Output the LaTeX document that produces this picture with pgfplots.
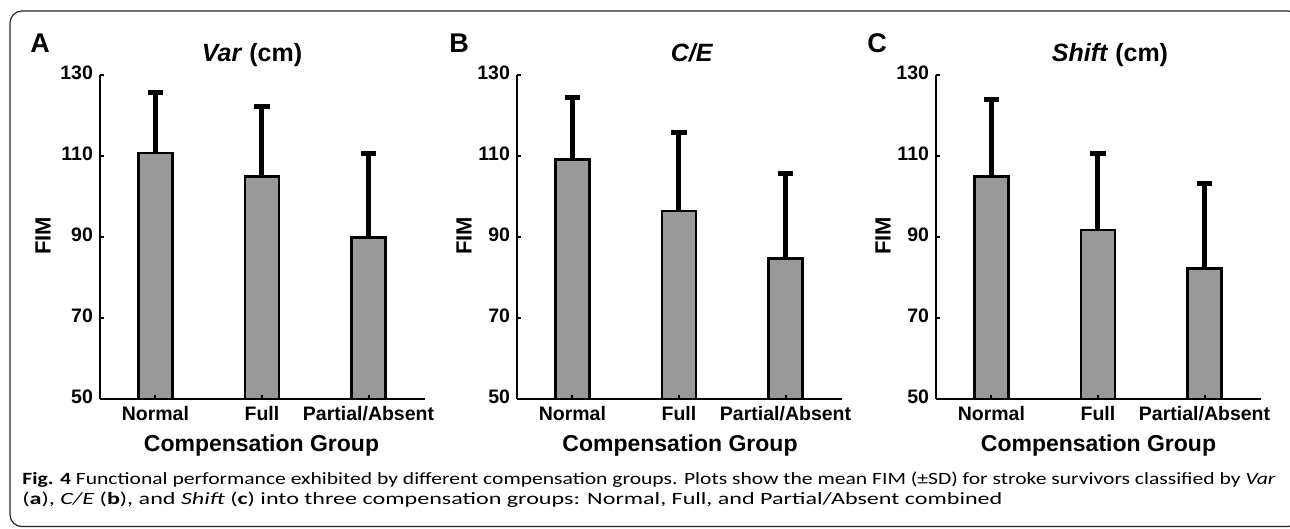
\documentclass[border=0pt]{standalone}
\usepackage{fontspec}
\setmainfont{Liberation Sans}
\newfontfamily\capfont{Carlito}
\usepackage{graphicx}
\usepackage{pgfplots}
\pgfplotsset{compat=1.18}
\definecolor{barfill}{HTML}{999999}
\pgfplotsset{
  fim/.style={
    scale only axis, width=162.5pt, height=162pt, anchor=south west,
    ybar, bar width=17pt,
    xmin=-0.52, xmax=2.53, ymin=50, ymax=130,
    ytick={50,70,90,110,130},
    xtick={0,1,2}, xticklabels={Normal,Full,Partial/Absent},
    axis lines*=left, axis line style={line width=1.1pt, black},
    axis on top,
    tick align=inside, major tick length=2.2pt,
    tick style={line width=1pt, black},
    tick label style={font=\fontsize{9.75}{11}\selectfont\bfseries},
    /pgf/number format/assume math mode=true,
    yticklabel style={yshift=1pt},
  },
  fimbars/.style={fill=barfill, draw=black, line width=1.3pt,
    error bars/.cd, y dir=plus, y explicit, error mark=|,
    error bar style={line width=2.5pt, black},
    error mark options={line width=2.5pt, mark size=3.9pt, black}},
}
\tikzset{
  panel/.style={anchor=base west, inner sep=0pt, font=\fontsize{13.5}{15}\selectfont\bfseries},
  ptitle/.style={anchor=base, inner sep=0pt, font=\fontsize{12.5}{14}\selectfont\bfseries},
  ylab/.style={rotate=90, inner sep=0pt, font=\fontsize{11}{13}\selectfont\bfseries},
  xlab/.style={anchor=base, inner sep=0pt, font=\fontsize{11.5}{13}\selectfont\bfseries},
}

\begin{document}
\begin{tikzpicture}
\useasboundingbox (0,0) rectangle (645pt,264.5pt);
\draw[line width=0.6pt, black!85, rounded corners=6pt] (5pt,1.2pt) rectangle (650pt,259pt);

% A: Var
\begin{axis}[fim, at={(50pt,65pt)}]
\addplot[fimbars] coordinates {(0,110.7) +- (0,15.0) (1,104.9) +- (0,17.3) (2,89.9) +- (0,20.8)};
\end{axis}
% B: C/E
\begin{axis}[fim, at={(258.5pt,65pt)}]
\addplot[fimbars] coordinates {(0,109.2) +- (0,15.3) (1,96.4) +- (0,19.5) (2,84.7) +- (0,20.9)};
\end{axis}
% C: Shift
\begin{axis}[fim, at={(468pt,65pt)}]
\addplot[fimbars] coordinates {(0,105.0) +- (0,18.9) (1,91.7) +- (0,19.0) (2,82.2) +- (0,21.1)};
\end{axis}

\node[panel] at (15pt,238pt) {A};
\node[panel] at (224.5pt,238pt) {B};
\node[panel] at (433.5pt,238pt) {C};
\node[ptitle] at (126pt,233.5pt) {\textit{Var} (cm)};
\node[ptitle] at (346pt,233.5pt) {\textit{C/E}};
\node[ptitle] at (555pt,233.5pt) {\textit{Shift} (cm)};
\node[ylab] at (21.5pt,146.5pt) {FIM};
\node[ylab] at (232pt,146.5pt) {FIM};
\node[ylab] at (441.5pt,146.5pt) {FIM};
\node[xlab] at (130.75pt,38.5pt) {Compensation Group};
\node[xlab] at (340pt,38.5pt) {Compensation Group};
\node[xlab] at (549.25pt,38.5pt) {Compensation Group};

\node[anchor=base west, inner sep=0pt] at (11pt,22pt) {\capfont\fontsize{8.6}{10}\selectfont\resizebox{626.5pt}{\height}{\textbf{Fig. 4} Functional performance exhibited by different compensation groups. Plots show the mean FIM (±SD) for stroke survivors classified by \textit{Var}}};
\node[anchor=base west, inner sep=0pt] at (11pt,12pt) {\capfont\fontsize{8.6}{10}\selectfont\resizebox{490pt}{\height}{(\textbf{a}), \textit{C/E} (\textbf{b}), and \textit{Shift} (\textbf{c}) into three compensation groups: Normal, Full, and Partial/Absent combined}};
\end{tikzpicture}
\end{document}
